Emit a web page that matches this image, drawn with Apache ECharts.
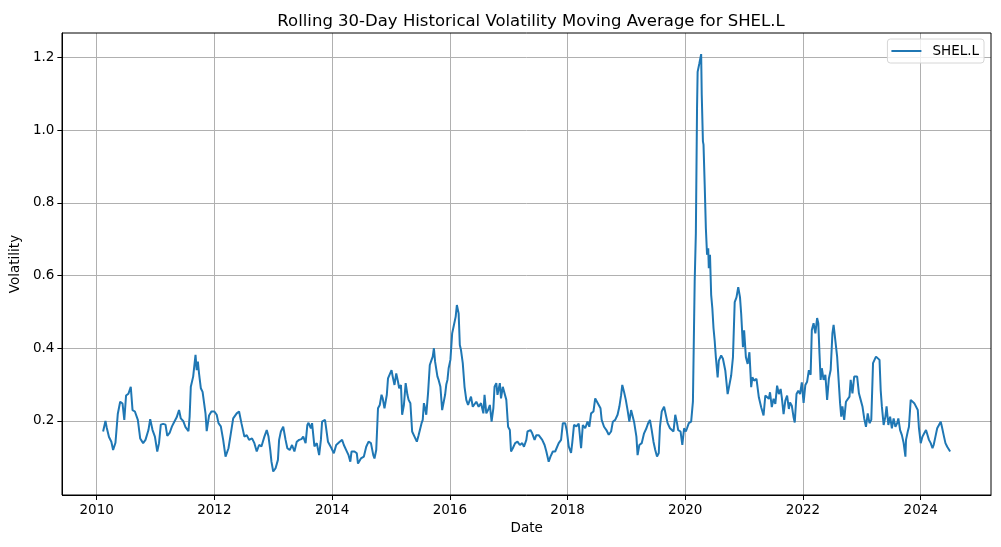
<!DOCTYPE html>
<html>
<head>
<meta charset="utf-8">
<script src="https://cdn.jsdelivr.net/npm/echarts@6/dist/echarts.min.js"></script>
<style>
html,body{margin:0;padding:0;background:#fff;}
#chart{width:1001px;height:547px;}
</style>
</head>
<body>
<div id="chart"></div>
<script>
// Dates as decimal years
const years = [
2010.11,2010.15,2010.17,2010.21,2010.25,2010.28,2010.32,2010.36,2010.40,2010.44,2010.47,2010.50,2010.54,2010.58,2010.61,2010.65,2010.70,2010.74,2010.79,2010.83,2010.88,2010.91,2010.95,2010.99,
2011.03,2011.06,2011.09,2011.13,2011.17,2011.20,2011.24,2011.28,2011.32,2011.36,2011.40,2011.43,2011.47,2011.51,2011.56,2011.58,2011.60,2011.64,2011.68,2011.70,2011.72,2011.74,2011.77,2011.80,2011.83,2011.85,2011.87,2011.91,2011.95,
2012.00,2012.04,2012.07,2012.11,2012.15,2012.19,2012.24,2012.28,2012.32,2012.38,2012.42,2012.46,2012.51,2012.55,2012.59,2012.64,2012.68,2012.72,2012.76,2012.80,2012.85,2012.89,2012.92,2012.95,2012.97,
2013.00,2013.04,2013.08,2013.10,2013.13,2013.17,2013.21,2013.24,2013.28,2013.32,2013.36,2013.40,2013.44,2013.48,2013.51,2013.55,2013.58,2013.60,2013.64,2013.66,2013.70,2013.74,2013.78,2013.81,2013.83,2013.88,2013.91,2013.93,2013.96,2013.99,
2014.03,2014.07,2014.13,2014.17,2014.20,2014.24,2014.28,2014.31,2014.33,2014.38,2014.42,2014.44,2014.49,2014.54,2014.58,2014.62,2014.66,2014.70,2014.72,2014.75,2014.78,2014.81,2014.84,2014.86,2014.89,2014.93,2014.95,2014.98,
2015.01,2015.03,2015.06,2015.09,2015.12,2015.14,2015.17,2015.19,2015.22,2015.25,2015.28,2015.30,2015.33,2015.36,2015.40,2015.44,2015.47,2015.52,2015.54,2015.56,2015.58,2015.60,2015.63,2015.66,2015.69,2015.71,2015.73,2015.75,2015.79,2015.81,2015.84,2015.87,2015.89,2015.92,2015.94,2015.96,2015.98,
2016.01,2016.04,2016.07,2016.10,2016.12,2016.15,2016.17,2016.19,2016.22,2016.25,2016.28,2016.31,2016.34,2016.36,2016.39,2016.42,2016.45,2016.49,2016.53,2016.57,2016.59,2016.62,2016.65,2016.68,2016.71,2016.74,2016.76,2016.79,2016.81,2016.85,2016.87,2016.90,2016.93,2016.96,2016.99,
2017.02,2017.04,2017.07,2017.11,2017.15,2017.19,2017.23,2017.26,2017.30,2017.32,2017.37,2017.40,2017.44,2017.47,2017.51,2017.54,2017.57,2017.61,2017.64,2017.68,2017.71,2017.75,2017.79,2017.82,2017.85,2017.89,2017.92,2017.96,2017.99,
2018.02,2018.06,2018.08,2018.11,2018.15,2018.19,2018.23,2018.26,2018.30,2018.34,2018.37,2018.40,2018.44,2018.47,2018.50,2018.53,2018.56,2018.58,2018.62,2018.66,2018.70,2018.74,2018.77,2018.81,2018.85,2018.88,2018.91,2018.93,2018.96,2018.99,
2019.02,2019.05,2019.08,2019.11,2019.13,2019.17,2019.19,2019.22,2019.26,2019.30,2019.34,2019.37,2019.40,2019.43,2019.46,2019.49,2019.52,2019.55,2019.57,2019.60,2019.64,2019.67,2019.70,2019.74,2019.77,2019.80,2019.83,2019.86,2019.88,2019.92,2019.95,2019.98,
2020.01,2020.03,2020.06,2020.10,2020.13,2020.16,2020.18,2020.20,2020.21,2020.24,2020.27,2020.28,2020.30,2020.31,2020.33,2020.35,2020.37,2020.39,2020.40,2020.42,2020.44,2020.46,2020.48,2020.50,2020.52,2020.55,2020.57,2020.61,2020.64,2020.68,2020.72,2020.75,2020.78,2020.81,2020.84,2020.87,2020.90,2020.93,2020.95,2020.98,
2021.00,2021.03,2021.06,2021.09,2021.12,2021.14,2021.17,2021.21,2021.25,2021.29,2021.33,2021.36,2021.39,2021.42,2021.44,2021.47,2021.50,2021.53,2021.56,2021.59,2021.62,2021.64,2021.67,2021.70,2021.73,2021.76,2021.78,2021.81,2021.84,2021.86,2021.89,2021.92,2021.95,2021.98,
2022.01,2022.04,2022.07,2022.10,2022.13,2022.15,2022.18,2022.21,2022.24,2022.26,2022.28,2022.30,2022.32,2022.35,2022.38,2022.41,2022.44,2022.47,2022.50,2022.52,2022.55,2022.58,2022.61,2022.63,2022.65,2022.67,2022.70,2022.73,2022.76,2022.79,2022.81,2022.84,2022.87,2022.89,2022.92,2022.95,2022.98,
2023.01,2023.04,2023.07,2023.10,2023.13,2023.16,2023.19,2023.21,2023.24,2023.27,2023.30,2023.32,2023.34,2023.37,2023.40,2023.42,2023.45,2023.48,2023.51,2023.54,2023.57,2023.60,2023.62,2023.65,2023.68,2023.71,2023.74,2023.75,2023.78,2023.80,2023.83,2023.86,2023.89,2023.92,2023.95,2023.97,
2024.00,2024.03,2024.06,2024.09,2024.11,2024.14,2024.17,2024.20,2024.22,2024.25,2024.28,2024.31,2024.34,2024.36,2024.39,2024.42,2024.45,2024.50
];
const volatility = [
0.171,0.200,0.183,0.156,0.143,0.120,0.140,0.220,0.253,0.248,0.203,0.270,0.275,0.294,0.230,0.226,0.203,0.152,0.139,0.148,0.175,0.205,0.175,0.157,
0.116,0.139,0.190,0.192,0.190,0.159,0.167,0.185,0.198,0.210,0.230,0.207,0.200,0.183,0.172,0.212,0.294,0.322,0.382,0.340,0.363,0.330,0.290,0.280,0.280,0.220,0.172,0.215,0.226,
0.226,0.217,0.194,0.185,0.148,0.102,0.125,0.166,0.207,0.221,0.226,0.194,0.157,0.161,0.148,0.152,0.139,0.116,0.134,0.130,0.157,0.175,0.157,0.120,0.088,
0.061,0.070,0.093,0.148,0.171,0.184,0.148,0.125,0.120,0.134,0.116,0.143,0.148,0.150,0.157,0.139,0.189,0.195,0.180,0.194,0.130,0.139,0.106,0.148,0.198,0.203,0.207,0.143,0.139,0.125,
0.111,0.134,0.143,0.148,0.134,0.120,0.106,0.088,0.116,0.116,0.111,0.083,0.097,0.102,0.129,0.143,0.139,0.106,0.097,0.120,0.235,0.244,0.272,0.262,0.235,0.272,0.317,0.317,
0.340,0.322,0.299,0.331,0.308,0.290,0.299,0.217,0.244,0.304,0.272,0.258,0.249,0.171,0.157,0.143,0.161,0.194,0.203,0.249,0.235,0.217,0.276,0.354,0.368,0.377,0.400,0.363,0.322,0.313,0.294,0.230,0.235,0.272,0.300,0.313,0.345,
0.368,0.441,0.464,0.487,0.519,0.496,0.409,0.395,0.359,0.294,0.258,0.244,0.258,0.267,0.239,0.235,0.253,0.239,0.249,0.221,0.272,0.221,0.230,0.244,0.198,0.235,0.294,0.304,0.272,0.304,0.262,0.294,0.294,0.258,0.184,
0.175,0.116,0.125,0.139,0.143,0.134,0.139,0.129,0.148,0.171,0.175,0.166,0.148,0.161,0.161,0.164,0.148,0.134,0.116,0.088,0.102,0.116,0.116,0.120,0.139,0.148,0.194,0.194,0.171,
0.130,0.112,0.140,0.189,0.185,0.193,0.125,0.189,0.180,0.198,0.184,0.221,0.226,0.262,0.253,0.244,0.235,0.203,0.184,0.175,0.162,0.171,0.198,0.203,0.217,0.239,0.271,0.299,0.280,0.258,
0.230,0.198,0.230,0.226,0.198,0.157,0.106,0.134,0.139,0.166,0.180,0.194,0.203,0.175,0.143,0.120,0.102,0.112,0.184,0.226,0.239,0.244,0.194,0.180,0.184,0.171,0.217,0.194,0.175,0.171,0.134,0.180,
0.171,0.180,0.194,0.198,0.253,0.583,0.716,1.060,1.160,1.184,1.209,1.097,0.969,0.960,0.850,0.730,0.657,0.675,0.620,0.657,0.547,0.510,0.455,0.420,0.375,0.320,0.366,0.380,0.371,0.339,0.274,0.274,0.325,0.375,0.527,0.540,0.568,0.540,0.495,0.403,
0.449,0.375,0.357,0.389,0.293,0.320,0.311,0.316,0.265,0.238,0.215,0.270,0.274,0.261,0.279,0.238,0.261,0.247,0.297,0.274,0.288,0.265,0.219,0.256,0.270,0.233,0.251,0.242,0.210,0.196,0.274,0.283,0.274,0.306,
0.250,0.299,0.308,0.340,0.327,0.450,0.469,0.441,0.483,0.469,0.386,0.313,0.345,0.313,0.327,0.258,0.317,0.340,0.441,0.464,0.460,0.377,0.372,0.249,0.212,0.240,0.203,0.253,0.258,0.267,0.313,0.276,0.322,0.317,0.322,0.276,0.258,
0.240,0.207,0.184,0.221,0.194,0.203,0.359,0.354,0.377,0.382,0.368,0.285,0.240,0.189,0.212,0.240,0.189,0.212,0.180,0.207,0.184,0.194,0.207,0.175,0.161,0.139,0.102,0.148,0.171,0.184,0.258,0.253,0.249,0.249,0.230,0.180,
0.139,0.157,0.166,0.175,0.171,0.148,0.139,0.125,0.134,0.157,0.180,0.189,0.198,0.184,0.161,0.139,0.129,0.116
];
const xTicks = [2010, 2012, 2014, 2016, 2018, 2020, 2022, 2024];
const yTicks = [0.2, 0.4, 0.6, 0.8, 1.0, 1.2];
const seriesName = 'SHEL.L';
const titleText = 'Rolling 30-Day Historical Volatility Moving Average for SHEL.L';

const chart = echarts.init(document.getElementById('chart'), null, {renderer: 'canvas'});
const font = 'DejaVu Sans';
const data = years.map((y, i) => [y, volatility[i]]);

chart.setOption({
  animation: false,
  backgroundColor: '#ffffff',
  textStyle: {fontFamily: font},
  title: {
    text: titleText,
    left: 526,
    textAlign: 'center',
    top: 8,
    textStyle: {fontFamily: font, fontSize: 16.5, fontWeight: 'normal', color: '#000'}
  },
  legend: {
    data: [seriesName],
    right: 17,
    top: 39,
    icon: 'rect',
    itemWidth: 30,
    itemHeight: 2,
    itemGap: 10,
    padding: [5, 5, 5, 4],
    backgroundColor: 'rgba(255,255,255,0.8)',
    borderColor: '#d6d6d6',
    borderWidth: 1,
    borderRadius: 3,
    textStyle: {fontFamily: font, fontSize: 13.5, color: '#000', lineHeight: 14, padding: [0, 0, 0, 6]}
  },
  grid: {left: 62, right: 10, top: 33, bottom: 52, containLabel: false},
  xAxis: {
    type: 'value',
    min: 2009.418,
    max: 2025.194,
    name: 'Date',
    nameLocation: 'middle',
    nameGap: 26,
    nameTextStyle: {fontFamily: font, fontSize: 13.5, color: '#000'},
    axisLine: {show: true, onZero: false, lineStyle: {color: '#000', width: 1}},
    axisTick: {show: true, customValues: xTicks, length: 5, lineStyle: {color: '#000', width: 1}},
    axisLabel: {customValues: xTicks, fontFamily: font, fontSize: 13.5, color: '#000', margin: 8,
      formatter: v => String(Math.round(v))},
    splitLine: {show: true, lineStyle: {color: '#b0b0b0', width: 1}}
  },
  yAxis: {
    type: 'value',
    min: -0.0036,
    max: 1.267,
    name: 'Volatility',
    nameLocation: 'middle',
    nameGap: 40,
    nameTextStyle: {fontFamily: font, fontSize: 13.5, color: '#000'},
    axisLine: {show: true, onZero: false, lineStyle: {color: '#000', width: 1}},
    axisTick: {show: true, customValues: yTicks, length: 5, lineStyle: {color: '#000', width: 1}},
    axisLabel: {customValues: yTicks, fontFamily: font, fontSize: 13.5, color: '#000', margin: 8,
      formatter: v => v.toFixed(1)},
    splitLine: {show: true, lineStyle: {color: '#b0b0b0', width: 1}}
  },
  series: [{
    name: seriesName,
    type: 'line',
    data: data,
    showSymbol: false,
    symbol: 'none',
    lineStyle: {color: '#1f77b4', width: 2},
    itemStyle: {color: '#1f77b4'}
  }]
});

// outer frame on top/right like matplotlib spines
chart.setOption({
  graphic: [{
    type: 'rect',
    shape: {x: 62, y: 33, width: 929, height: 462},
    style: {fill: 'none', stroke: '#000', lineWidth: 1},
    silent: true,
    z: 100
  }]
});
</script>
</body>
</html>
